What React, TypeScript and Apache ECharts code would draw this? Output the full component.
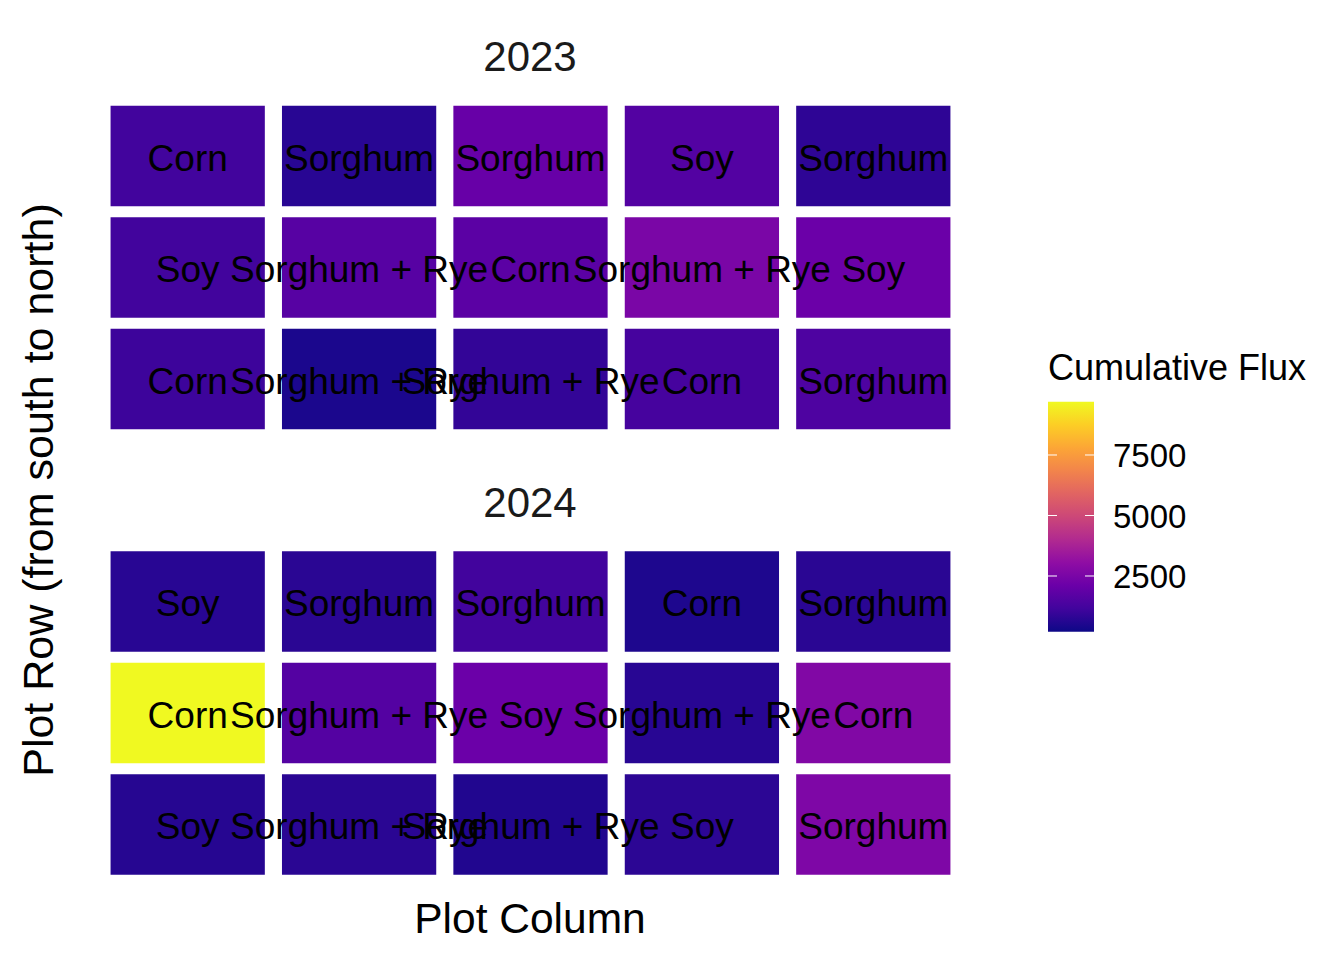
import React, { useEffect, useRef } from "react";
import * as echarts from "echarts";

const years = ["2023", "2024"];
const columns = ["1", "2", "3", "4", "5"];
const rows = ["1", "2", "3"]; // south to north

// crops per row (row 1 = south / bottom), columns 1..5
const crops2023 = [
  ["Corn", "Sorghum + Rye", "Sorghum + Rye", "Corn", "Sorghum"],
  ["Soy", "Sorghum + Rye", "Corn", "Sorghum + Rye", "Soy"],
  ["Corn", "Sorghum", "Sorghum", "Soy", "Sorghum"],
];
const flux2023 = [
  [1080, 460, 890, 1270, 1460],
  [1180, 1650, 1750, 2510, 2130],
  [1180, 700, 2030, 1560, 800],
];
const crops2024 = [
  ["Soy", "Sorghum + Rye", "Sorghum + Rye", "Soy", "Sorghum"],
  ["Corn", "Sorghum + Rye", "Soy", "Sorghum + Rye", "Corn"],
  ["Soy", "Sorghum", "Sorghum", "Corn", "Sorghum"],
];
const flux2024 = [
  [650, 720, 560, 760, 2600],
  [9702, 1600, 2130, 700, 2700],
  [700, 720, 1180, 500, 720],
];

const fluxMin = 198;
const fluxMax = 9702;
const legendTicks = [2500, 5000, 7500];

const plasma = [
  "#0d0887", "#41049d", "#6a00a8", "#8f0da4", "#b12a90", "#cc4778",
  "#e16462", "#f2844b", "#fca636", "#fcce25", "#f0f921",
];

const FONT = "Liberation Sans, Arial, sans-serif";

function buildData(crops: string[][], flux: number[][]) {
  const out: any[] = [];
  rows.forEach((_, r) => {
    columns.forEach((_, c) => {
      out.push([c, r, flux[r][c], crops[r][c]]);
    });
  });
  return out;
}

export default function App() {
  const ref = useRef<HTMLDivElement>(null);
  useEffect(() => {
    if (!ref.current) return;
    const chart = echarts.init(ref.current, null, { renderer: "svg" });

    const gridLeft = 102;
    const gridWidth = 857;
    const gridHeight = 334.5;
    const gridTops = [100.25, 545.75];

    const barX = 1048, barW = 46, barTop = 401.7, barBottom = 631.7;
    const valToY = (v: number) =>
      barBottom - ((v - fluxMin) / (fluxMax - fluxMin)) * (barBottom - barTop);

    const data2023 = buildData(crops2023, flux2023);
    const data2024 = buildData(crops2024, flux2024);

    const rectRender = (params: any, api: any) => {
      const c = api.coord([api.value(0), api.value(1)]);
      const s = api.size([1, 1]);
      const w = s[0] * 0.9, h = s[1] * 0.9;
      return {
        type: "rect",
        shape: { x: c[0] - w / 2, y: c[1] - h / 2, width: w, height: h },
        style: { fill: api.visual("color") },
      };
    };
    const textRender = (params: any, api: any) => {
      const c = api.coord([api.value(0), api.value(1)]);
      const idx = params.dataIndex;
      const item = (params.seriesIndex === 2 ? data2023 : data2024)[idx];
      return {
        type: "text",
        x: c[0],
        y: c[1] + 2,
        style: {
          text: item[3],
          fill: "#000000",
          fontSize: 37,
          fontFamily: FONT,
          align: "center",
          verticalAlign: "middle",
        },
      };
    };

    const graphics: any[] = [
      {
        type: "text",
        x: 530,
        y: 56,
        style: { text: years[0], fill: "#1a1a1a", fontSize: 42, fontFamily: FONT, align: "center", verticalAlign: "middle" },
      },
      {
        type: "text",
        x: 530,
        y: 502,
        style: { text: years[1], fill: "#1a1a1a", fontSize: 42, fontFamily: FONT, align: "center", verticalAlign: "middle" },
      },
      {
        type: "text",
        x: 530,
        y: 918,
        style: { text: "Plot Column", fill: "#000000", fontSize: 42.5, fontFamily: FONT, align: "center", verticalAlign: "middle" },
      },
      {
        type: "text",
        x: 38,
        y: 490,
        rotation: Math.PI / 2,
        style: { text: "Plot Row (from south to north)", fill: "#000000", fontSize: 43, fontFamily: FONT, align: "center", verticalAlign: "middle" },
      },
      {
        type: "text",
        x: 1048,
        y: 367,
        style: { text: "Cumulative Flux", fill: "#000000", fontSize: 36, fontFamily: FONT, align: "left", verticalAlign: "middle" },
      },
      {
        type: "rect",
        shape: { x: barX, y: barTop, width: barW, height: barBottom - barTop },
        style: {
          fill: new echarts.graphic.LinearGradient(
            0, 1, 0, 0,
            plasma.map((c, i) => ({ offset: i / (plasma.length - 1), color: c }))
          ),
        },
      },
    ];
    legendTicks.forEach((t) => {
      const y = valToY(t);
      graphics.push(
        { type: "line", shape: { x1: barX, y1: y, x2: barX + 9, y2: y }, style: { stroke: "#ffffff", lineWidth: 1 } },
        { type: "line", shape: { x1: barX + barW - 9, y1: y, x2: barX + barW, y2: y }, style: { stroke: "#ffffff", lineWidth: 1 } },
        {
          type: "text",
          x: 1113,
          y: y + 1,
          style: { text: String(t), fill: "#000000", fontSize: 33, fontFamily: FONT, align: "left", verticalAlign: "middle" },
        }
      );
    });

    const axisHidden = {
      axisLine: { show: false },
      axisTick: { show: false },
      axisLabel: { show: false },
      splitLine: { show: false },
    };

    chart.setOption({
      animation: false,
      backgroundColor: "#ffffff",
      grid: gridTops.map((top) => ({ left: gridLeft, top, width: gridWidth, height: gridHeight })),
      xAxis: [0, 1].map((i) => ({ type: "category", data: columns, gridIndex: i, ...axisHidden })),
      yAxis: [0, 1].map((i) => ({ type: "category", data: rows, gridIndex: i, ...axisHidden })),
      visualMap: {
        type: "continuous",
        show: false,
        min: fluxMin,
        max: fluxMax,
        dimension: 2,
        seriesIndex: [0, 1],
        inRange: { color: plasma },
      },
      series: [
        { type: "custom", xAxisIndex: 0, yAxisIndex: 0, data: data2023, renderItem: rectRender, z: 2 },
        { type: "custom", xAxisIndex: 1, yAxisIndex: 1, data: data2024, renderItem: rectRender, z: 2 },
        { type: "custom", xAxisIndex: 0, yAxisIndex: 0, data: data2023, renderItem: textRender, z: 5, silent: true },
        { type: "custom", xAxisIndex: 1, yAxisIndex: 1, data: data2024, renderItem: textRender, z: 5, silent: true },
      ],
      graphic: graphics,
    });
    return () => chart.dispose();
  }, []);

  return (
    <div
      ref={ref}
      style={{ position: "fixed", left: 0, top: 0, width: 1344, height: 960, background: "#fff" }}
    />
  );
}
